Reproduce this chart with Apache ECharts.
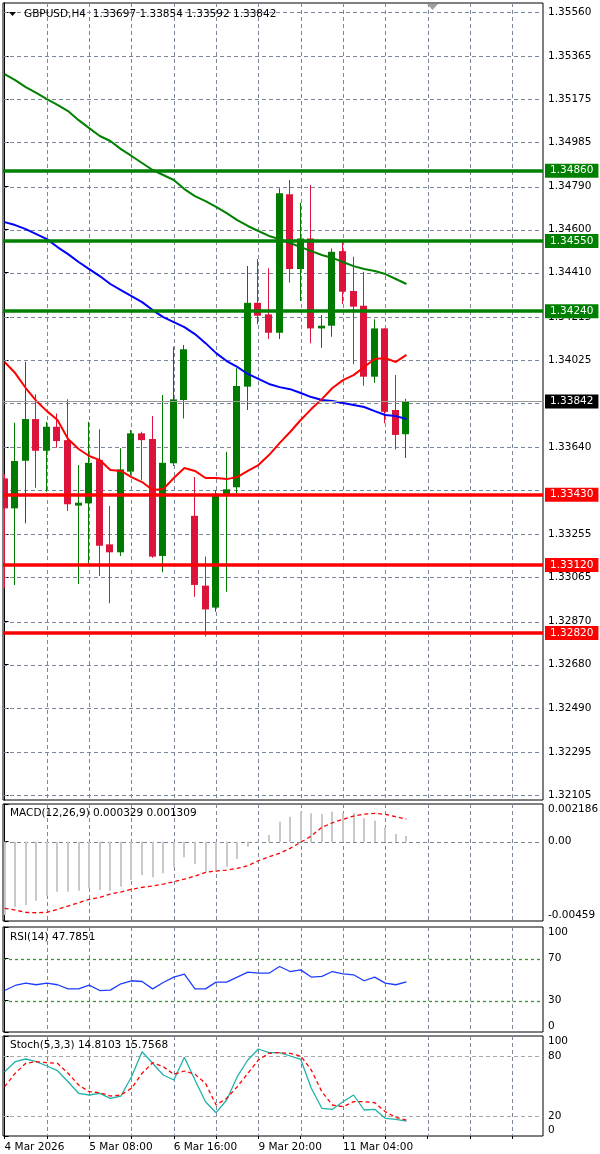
<!DOCTYPE html>
<html><head><meta charset="utf-8">
<script src="https://cdn.jsdelivr.net/npm/echarts@6/dist/echarts.min.js"></script>
<style>html,body{margin:0;padding:0;background:#fff}#c{width:600px;height:1154px}</style>
</head><body><div id="c"></div>
<script>
// ---- price candles (H4 bars, index 0 = 4 Mar 2026 00:00) ----
const openP  = [1.33502,1.33370,1.33580,1.33764,1.33624,1.33730,1.33671,1.33382,1.33392,1.33583,1.33211,1.33176,1.33532,1.33701,1.33676,1.33160,1.33569,1.33848,1.33337,1.33029,1.32932,1.33429,1.33463,1.33907,1.34277,1.34226,1.34145,1.34756,1.34426,1.34561,1.34164,1.34176,1.34505,1.34329,1.34264,1.33951,1.34164,1.33804,1.33697];
const highP  = [1.33520,1.33748,1.34017,1.33874,1.33752,1.33789,1.33851,1.33561,1.33752,1.33719,1.33380,1.33635,1.33716,1.33708,1.33777,1.33870,1.34083,1.34091,1.33508,1.33157,1.33451,1.33620,1.33988,1.34439,1.34470,1.34429,1.34782,1.34819,1.34719,1.34797,1.34223,1.34517,1.34554,1.34480,1.34414,1.34205,1.34164,1.33958,1.33854];
const lowP   = [1.33017,1.33032,1.33304,1.33461,1.33443,1.33637,1.33358,1.33036,1.33127,1.33071,1.32951,1.33160,1.33517,1.33495,1.33152,1.33088,1.33557,1.33767,1.32980,1.32804,1.32914,1.33002,1.33436,1.33804,1.34182,1.34117,1.34117,1.34367,1.34285,1.34098,1.34079,1.34127,1.34272,1.34006,1.33911,1.33924,1.33745,1.33630,1.33592];
const closeP = [1.33370,1.33579,1.33764,1.33624,1.33730,1.33667,1.33388,1.33395,1.33571,1.33205,1.33176,1.33542,1.33701,1.33671,1.33157,1.33571,1.33851,1.34072,1.33032,1.32924,1.33429,1.33454,1.33910,1.34277,1.34220,1.34145,1.34760,1.34426,1.34561,1.34164,1.34176,1.34502,1.34326,1.34260,1.33951,1.34164,1.33796,1.33694,1.33842];
// ---- moving averages ----
const maGreen = [1.35286,1.35260,1.35229,1.35203,1.35176,1.35150,1.35123,1.35083,1.35048,1.35013,1.34991,1.34955,1.34925,1.34894,1.34863,1.34841,1.34819,1.34779,1.34748,1.34726,1.34700,1.34673,1.34642,1.34616,1.34594,1.34572,1.34558,1.34541,1.34523,1.34505,1.34488,1.34475,1.34457,1.34439,1.34426,1.34417,1.34404,1.34382,1.34360];
const maBlue  = [1.34633,1.34620,1.34602,1.34580,1.34558,1.34523,1.34492,1.34457,1.34426,1.34395,1.34360,1.34333,1.34307,1.34280,1.34245,1.34214,1.34192,1.34170,1.34139,1.34099,1.34055,1.34020,1.33994,1.33963,1.33941,1.33919,1.33905,1.33896,1.33879,1.33861,1.33848,1.33844,1.33835,1.33826,1.33817,1.33799,1.33782,1.33777,1.33764];
const maRed   = [1.34016,1.33967,1.33901,1.33844,1.33799,1.33760,1.33676,1.33632,1.33601,1.33583,1.33539,1.33535,1.33508,1.33486,1.33451,1.33455,1.33504,1.33548,1.33535,1.33504,1.33504,1.33499,1.33508,1.33535,1.33561,1.33605,1.33658,1.33707,1.33760,1.33808,1.33852,1.33901,1.33936,1.33958,1.33994,1.34029,1.34033,1.34016,1.34047];
// ---- levels ----
const resistanceLevels = [1.34860,1.34550,1.34240];
const supportLevels    = [1.33430,1.33120,1.32820];
const lastPrice = 1.33842;
// ---- MACD(12,26,9) ----
const macdHist   = [-0.004245,-0.003764,-0.003666,-0.003417,-0.003127,-0.002896,-0.002896,-0.002838,-0.002699,-0.002797,-0.002838,-0.002606,-0.002218,-0.001929,-0.002062,-0.001830,-0.001448,-0.000903,-0.001291,-0.001737,-0.001737,-0.001448,-0.001002,-0.000290,0.000030,0.000388,0.001158,0.001448,0.001737,0.001645,0.001604,0.001737,0.001645,0.001645,0.001355,0.001216,0.000834,0.000446,0.000329];
const macdSignal = [-0.003857,-0.003956,-0.004089,-0.004112,-0.004089,-0.003915,-0.003724,-0.003533,-0.003336,-0.003220,-0.003029,-0.002913,-0.002757,-0.002641,-0.002566,-0.002450,-0.002317,-0.002160,-0.001986,-0.001772,-0.001697,-0.001639,-0.001541,-0.001390,-0.001100,-0.000869,-0.000672,-0.000382,-0.000035,0.000330,0.000834,0.001100,0.001297,0.001488,0.001604,0.001645,0.001587,0.001448,0.001309];
// ---- RSI(14) ----
const rsi = [39.5,44.3,46.6,45.0,46.6,45.0,41.1,41.1,44.6,39.5,39.9,45.9,48.8,48.1,41.1,47.1,52.3,55.1,41.1,41.1,47.5,47.5,52.3,57.0,56.0,56.0,62.4,57.6,59.2,52.3,52.9,57.6,55.4,54.5,48.8,52.3,46.6,45.0,47.7851];
// ---- Stoch(5,3,3) ----
const stochMain   = [64.3,74.3,77.0,74.3,70.0,65.3,54.3,42.7,41.0,42.7,37.7,40.0,59.3,84.3,72.7,61.0,56.0,78.7,56.0,34.3,23.3,36.0,59.3,76.0,87.0,83.3,83.3,80.0,76.7,47.7,27.7,26.7,34.3,41.0,26.0,26.7,17.7,16.7,14.8103];
const stochSignal = [49.3,62.7,72.7,74.3,73.3,72.7,62.7,51.0,44.3,43.3,40.0,41.0,47.7,62.7,73.3,69.3,61.7,65.0,61.7,52.7,31.0,37.7,49.3,62.7,76.0,82.7,83.3,82.7,80.0,66.0,44.3,31.0,29.3,34.3,34.3,33.3,24.3,18.7,15.7568];
// ---- tick labels ----
const priceGridTicks = [1.35560,1.35365,1.35175,1.34985,1.34790,1.34600,1.34410,1.34215,1.34025,1.33835,1.33640,1.33450,1.33255,1.33065,1.32870,1.32680,1.32490,1.32295,1.32105];
const priceLabelTicks = [1.35560,1.35365,1.35175,1.34985,1.34790,1.34600,1.34410,1.34215,1.34025,1.33640,1.33255,1.33065,1.32870,1.32680,1.32490,1.32295,1.32105];
const macdTickValues = [-0.00459,0,0.002186];
const macdTickLabels = ['-0.00459','0.00','0.002186'];
const rsiTicks = [0,30,70,100];
const rsiLevels = [30,70];
const stochTicks = [0,20,80,100];
const stochLevels = [20,80];
const timeGridTicks = [4,8,12,16,20,24,28,32,36,40,44,48];
const timeTickMarks = [0,4,8,12,16,20,24,28,32,36,40,44,48];
const timeLabelTicks = [0,8,16,24,32];
const timeLabels = ['4 Mar 2026','5 Mar 08:00','6 Mar 16:00','9 Mar 20:00','11 Mar 04:00'];

const FONT = 'DejaVu Sans', FS = 10.5;
const BULL = '#007a00', BEAR = '#dc143c';
const GRIDC = '#7b8798';
const XMIN = -0.151, XMAX = 50.913;

const idx = a => a.map((v, i) => [i, v]);

function hLines(gi, values, color, dash, width, z) {
  return {type:'custom', xAxisIndex:gi, yAxisIndex:gi, z:z, silent:true, clip:false,
    data: values.map(v => [0, v]), encode:{x:0, y:1},
    renderItem: (params, api) => {
      const cs = params.coordSys;
      const y = Math.round(api.coord([0, api.value(1)])[1]) + 0.5;
      return {type:'line', shape:{x1:cs.x, y1:y, x2:cs.x + cs.width, y2:y},
        style:{stroke:color, lineWidth:width, lineDash:dash}};
    }};
}
function vLines(gi, values) {
  return {type:'custom', xAxisIndex:gi, yAxisIndex:gi, z:1, silent:true, clip:false,
    data: values.map(v => [v]), encode:{x:0},
    renderItem: (params, api) => {
      const cs = params.coordSys;
      const x = Math.round(api.coord([api.value(0), 0])[0]) + 0.5;
      return {type:'line', shape:{x1:x, y1:cs.y, x2:x, y2:cs.y + cs.height},
        style:{stroke:GRIDC, lineWidth:1, lineDash:[4,3]}};
    }};
}

const grids = [
  {left:3, top:3, width:540, height:797},
  {left:3, top:804, width:540, height:117},
  {left:3, top:927, width:540, height:105},
  {left:3, top:1036, width:540, height:100}
].map(g => Object.assign({show:true, borderColor:'#000', borderWidth:1, backgroundColor:'#fff', outerBoundsMode:'none', containLabel:false}, g));

const xAxes = [0,1,2,3].map(i => ({
  gridIndex:i, type:'value', min:XMIN, max:XMAX,
  axisLine:{show:false}, splitLine:{show:false},
  axisTick: i === 3 ? {show:true, customValues:timeTickMarks, length:3, lineStyle:{color:'#000'}} : {show:false},
  axisLabel: i === 3 ? {show:true, customValues:timeLabelTicks, align:'left', margin:6, color:'#000', fontSize:FS, fontFamily:FONT,
      formatter: v => timeLabels[timeLabelTicks.indexOf(Math.round(v))]} : {show:false}
}));

const labelStyle = {color:'#000', fontSize:FS, fontFamily:FONT, margin:5};
const yAxes = [
  {gridIndex:0, type:'value', position:'right', min:1.32083, max:1.35600,
   axisLine:{show:true, lineStyle:{color:'#000'}}, splitLine:{show:false},
   axisTick:{show:true, customValues:priceLabelTicks, length:4, lineStyle:{color:'#000'}},
   axisLabel:Object.assign({customValues:priceLabelTicks, formatter: v => v.toFixed(5)}, labelStyle)},
  {gridIndex:1, type:'value', position:'right', min:-0.00459, max:0.002186,
   axisLine:{show:true, lineStyle:{color:'#000'}}, splitLine:{show:false},
   axisTick:{show:true, customValues:macdTickValues, length:4, lineStyle:{color:'#000'}},
   axisLabel:Object.assign({customValues:macdTickValues, verticalAlignMaxLabel:'top', verticalAlignMinLabel:'bottom',
     formatter: v => { let b = 0; macdTickValues.forEach((t, i) => { if (Math.abs(t - v) < Math.abs(macdTickValues[b] - v)) b = i; }); return macdTickLabels[b]; }}, labelStyle)},
  {gridIndex:2, type:'value', position:'right', min:0, max:100,
   axisLine:{show:true, lineStyle:{color:'#000'}}, splitLine:{show:false},
   axisTick:{show:true, customValues:rsiTicks, length:4, lineStyle:{color:'#000'}},
   axisLabel:Object.assign({customValues:rsiTicks, verticalAlignMaxLabel:'top', verticalAlignMinLabel:'bottom'}, labelStyle)},
  {gridIndex:3, type:'value', position:'right', min:0, max:100,
   axisLine:{show:true, lineStyle:{color:'#000'}}, splitLine:{show:false},
   axisTick:{show:true, customValues:stochTicks, length:4, lineStyle:{color:'#000'}},
   axisLabel:Object.assign({customValues:stochTicks, verticalAlignMaxLabel:'top', verticalAlignMinLabel:'bottom'}, labelStyle)}
];

function levelItems(levels, color) {
  return levels.map(v => ({yAxis:v, lineStyle:{color:color, width:3.5, type:'solid'},
    label:{backgroundColor:color, color:'#fff'}}));
}

const candles = {
  type:'custom', xAxisIndex:0, yAxisIndex:0, z:2, clip:true, silent:true,
  data: openP.map((o, i) => [i, o, closeP[i], lowP[i], highP[i]]),
  encode:{x:0, y:[1,2,3,4]},
  renderItem: (params, api) => {
    const i = api.value(0), o = api.value(1), c = api.value(2), l = api.value(3), h = api.value(4);
    const po = api.coord([i, o]), pc = api.coord([i, c]), pl = api.coord([i, l]), ph = api.coord([i, h]);
    const xc = Math.round(po[0]) - 1;
    const col = c >= o ? BULL : BEAR;
    const top = Math.min(po[1], pc[1]);
    const bh = Math.max(Math.abs(po[1] - pc[1]), 2);
    return {type:'group', children:[
      {type:'rect', shape:{x:xc, y:ph[1], width:1, height:Math.max(pl[1] - ph[1], 1)}, style:{fill:col}},
      {type:'rect', shape:{x:xc - 3, y:top, width:7, height:bh}, style:{fill:col}}
    ]};
  }
};

const macdBars = {
  type:'custom', xAxisIndex:1, yAxisIndex:1, z:2, silent:true, clip:true,
  data: idx(macdHist), encode:{x:0, y:1},
  renderItem: (params, api) => {
    const p0 = api.coord([api.value(0), 0]), p1 = api.coord([api.value(0), api.value(1)]);
    const x = Math.round(p0[0]) - 1;
    return {type:'rect', shape:{x:x, y:Math.min(p0[1], p1[1]), width:2, height:Math.max(Math.abs(p1[1] - p0[1]), 1)}, style:{fill:'#c8c8c8'}};
  }
};

const lineS = (gi, data, color, width, dash, z) => ({
  type:'line', xAxisIndex:gi, yAxisIndex:gi, data:idx(data), showSymbol:false, symbol:'none', silent:true, z:z || 3,
  lineStyle:{color:color, width:width, type:dash || 'solid'}, itemStyle:{color:color}
});

const series = [
  hLines(0, priceGridTicks, GRIDC, [4,3], 1, 1),
  vLines(0, timeGridTicks),
  candles,
  Object.assign(lineS(0, maGreen, '#008000', 2), {
    markLine:{silent:true, symbol:['none','none'], animation:false, precision:5,
      label:{show:true, position:'end', distance:2, padding:[2,5,1,5], fontSize:FS, fontFamily:FONT, formatter: p => p.value.toFixed(5)},
      data: levelItems(resistanceLevels, '#008000').concat(levelItems(supportLevels, '#ff0000'))}
  }),
  Object.assign(lineS(0, maBlue, '#0000ff', 2), {
    markLine:{silent:true, symbol:['none','none'], animation:false, precision:5,
      label:{show:true, position:'end', distance:2, padding:[2,5,1,5], fontSize:FS, fontFamily:FONT, color:'#fff', backgroundColor:'#000', formatter: p => p.value.toFixed(5)},
      lineStyle:{color:'#9a9a9a', width:1, type:'solid'},
      data:[{yAxis:lastPrice}]}
  }),
  lineS(0, maRed, '#ff0000', 2),
  // MACD
  hLines(1, [0], GRIDC, [4,3], 1, 1),
  vLines(1, timeGridTicks),
  macdBars,
  lineS(1, macdSignal, '#ff0000', 1.3, [4,3]),
  // RSI
  vLines(2, timeGridTicks),
  hLines(2, rsiLevels, '#2e9a2e', [3,3], 1.3, 1),
  lineS(2, rsi, '#1e3cff', 1.3),
  // Stoch
  vLines(3, timeGridTicks),
  hLines(3, stochLevels, '#a8a8a8', [4,3], 1, 1),
  lineS(3, stochMain, '#20b2aa', 1.3),
  lineS(3, stochSignal, '#ff0000', 1.3, [4,3])
];

const n = openP.length - 1;
const tStyle = {fontSize:FS, fontWeight:'normal', color:'#000', fontFamily:FONT};
const titles = [
  {text:'GBPUSD,H4  ' + [openP[n], highP[n], lowP[n], closeP[n]].map(v => v.toFixed(5)).join(' '), left:24, top:9},
  {text:'MACD(12,26,9) ' + macdHist[n].toFixed(6) + ' ' + macdSignal[n].toFixed(6), left:10, top:808},
  {text:'RSI(14) ' + rsi[n].toFixed(4), left:10, top:932},
  {text:'Stoch(5,3,3) ' + stochMain[n].toFixed(4) + ' ' + stochSignal[n].toFixed(4), left:10, top:1040}
].map(t => Object.assign({padding:0, textStyle:tStyle}, t));

const chart = echarts.init(document.getElementById('c'), null, {renderer:'canvas'});
chart.setOption({
  animation:false,
  backgroundColor:'#fff',
  title:titles,
  grid:grids,
  xAxis:xAxes,
  yAxis:yAxes,
  series:series,
  graphic:[
    {type:'polygon', shape:{points:[[9,12],[16,12],[12.5,16]]}, style:{fill:'#000'}, z:10},
    {type:'polygon', shape:{points:[[427,4],[438,4],[432.5,10]]}, style:{fill:'#a0a0a0'}, z:10}
  ]
});
</script></body></html>
